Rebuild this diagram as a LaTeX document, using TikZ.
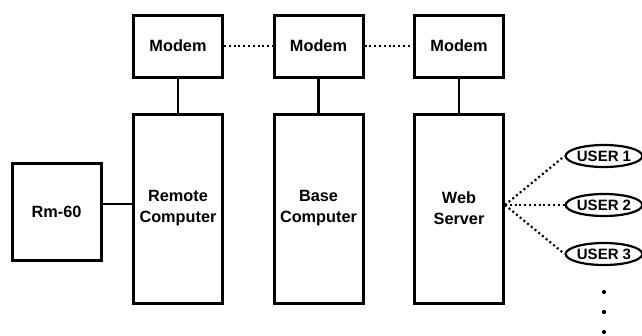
\documentclass[tikz,border=0pt]{standalone}
\usepackage{fontspec}
\setmainfont{Liberation Sans}
\usetikzlibrary{shapes.geometric}
\begin{document}
\begin{tikzpicture}[x=1pt,y=-1pt,
  box/.style={draw,line width=3pt,rectangle,font=\bfseries\fontsize{16.3}{21}\selectfont,align=center,inner sep=0pt},
  modembox/.style={box,minimum width=89pt,minimum height=62pt},
  compbox/.style={box,minimum width=89pt,minimum height=189pt},
  user/.style={draw,ellipse,line width=2.2pt,minimum width=69pt,minimum height=22pt,inner sep=0pt,font=\bfseries\fontsize{15}{17}\selectfont},
  link/.style={line width=2.8pt},
  dotlink/.style={line width=2.2pt,dash pattern=on 2pt off 2.8pt}]
\useasboundingbox (0,0) rectangle (642,335);

% modems
\node[modembox] (m1) at (178,46) {Modem};
\node[modembox] (m2) at (318.5,46) {Modem};
\node[modembox] (m3) at (459,46) {Modem};

% computers
\node[compbox] (c1) at (178,208.5) {Remote\\Computer};
\node[compbox] (c2) at (318.5,208.5) {Base\\Computer};
\node[compbox] (c3) at (459,208.5) {Web\\Server};

% instrument
\node[box,minimum width=89pt,minimum height=97pt] (rm) at (56.5,211.5) {Rm-60};

% users
\node[user] (u1) at (604,156) {USER 1};
\node[user] (u2) at (604,205) {USER 2};
\node[user] (u3) at (604,254) {USER 3};

% more users
\foreach \yy in {292,312,332} \fill (604,\yy) circle (2.1pt);

% wiring
\draw[link] (m1) -- (c1);
\draw[link] (m2) -- (c2);
\draw[link] (m3) -- (c3);
\draw[link] (rm.east |- 0,204) -- (c1.west |- 0,204);
\draw[dotlink] (m1) -- (m2);
\draw[dotlink] (m2) -- (m3);
\coordinate (hub) at (c3.east |- 0,205);
\draw[dotlink] (hub) -- (u1.west);
\draw[dotlink] (hub) -- (u2.west);
\draw[dotlink] (hub) -- (u3.west);
\end{tikzpicture}
\end{document}
